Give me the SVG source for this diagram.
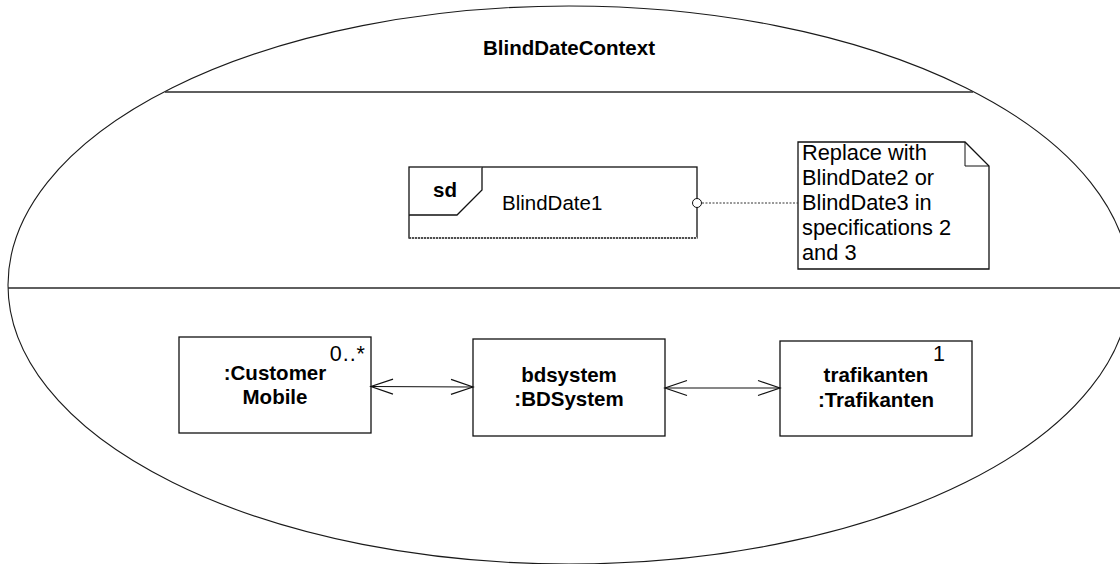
<svg xmlns="http://www.w3.org/2000/svg" width="1120" height="564" viewBox="0 0 1120 564">
  <style>
    .outline { fill: none; stroke: #1a1a1a; stroke-width: 1.1; }
    .divider { fill: none; stroke: #2a2a2a; stroke-width: 1.6; }
    .box { fill: #ffffff; stroke: #111111; stroke-width: 1.3; }
    .label { font-family: "Liberation Sans", Arial, sans-serif; fill: #000000; }
    .bold { font-weight: bold; font-size: 20.5px; }
    .plain { font-size: 20.5px; }
    .mult { font-size: 21.5px; }
    .note-text { font-size: 21.8px; }
    .assoc { fill: none; stroke: #111111; stroke-width: 1.2; }
    .dotted { fill: none; stroke: #333333; stroke-width: 1; stroke-dasharray: 2 1.5; }
  </style>
  <defs>
    <marker id="open-arrow" viewBox="-24 -10 26 20" refX="0" refY="0" markerWidth="26" markerHeight="20" markerUnits="userSpaceOnUse" orient="auto-start-reverse">
      <path d="M-22,-7.5 L0,0 L-22,7.5" fill="none" stroke="#111111" stroke-width="1.2"/>
    </marker>
  </defs>

  <rect width="1120" height="564" fill="#ffffff"/>

  <!-- collaboration context -->
  <g id="context">
    <ellipse class="outline" cx="569" cy="285" rx="561" ry="279"/>
    <line class="divider" x1="165" y1="92" x2="973" y2="92"/>
    <line class="divider" x1="8" y1="288" x2="1130" y2="288"/>
    <text class="label bold" x="569" y="55" text-anchor="middle">BlindDateContext</text>
  </g>

  <!-- interaction frame -->
  <g id="sd-blinddate1">
    <rect class="box" x="409" y="167" width="288" height="71" stroke-width="1"/>
    <line x1="409" y1="238" x2="697" y2="238" stroke="#ffffff" stroke-width="1.6"/>
    <line x1="409" y1="238" x2="697" y2="238" stroke="#222222" stroke-width="1.3" stroke-dasharray="2 1"/>
    <path class="box" d="M409,215 L457,215 L482,190 L482,167" fill="none" stroke-width="1"/>
    <text class="label bold" x="433" y="197">sd</text>
    <text class="label plain" x="502" y="210">BlindDate1</text>
  </g>

  <!-- comment note -->
  <g id="note">
    <path class="box" d="M798,142 L965,142 L989,166 L989,269 L798,269 Z" stroke-width="1"/>
    <path d="M965,142 L965,166 L989,166" fill="none" stroke="#111111" stroke-width="1"/>
    <text class="label note-text" x="802">
      <tspan x="802" y="160">Replace with</tspan>
      <tspan x="802" y="185">BlindDate2 or</tspan>
      <tspan x="802" y="210">BlindDate3 in</tspan>
      <tspan x="802" y="235">specifications 2</tspan>
      <tspan x="802" y="260">and 3</tspan>
    </text>
  </g>

  <!-- parts -->
  <g id="customer-mobile">
    <rect class="box" x="179" y="337" width="192" height="96"/>
    <text class="label bold" x="275" y="380" text-anchor="middle">:Customer</text>
    <text class="label bold" x="275" y="404" text-anchor="middle">Mobile</text>
    <text class="label mult" x="366" y="361" text-anchor="end" letter-spacing="1">0..*</text>
  </g>

  <g id="bdsystem">
    <rect class="box" x="473" y="339" width="192" height="97"/>
    <text class="label bold" x="569" y="382" text-anchor="middle">bdsystem</text>
    <text class="label bold" x="569" y="406" text-anchor="middle">:BDSystem</text>
  </g>

  <g id="trafikanten">
    <rect class="box" x="780" y="341" width="192" height="95"/>
    <text class="label bold" x="876" y="382" text-anchor="middle">trafikanten</text>
    <text class="label bold" x="876" y="407" text-anchor="middle">:Trafikanten</text>
    <text class="label mult" x="945" y="361" text-anchor="end">1</text>
  </g>

  <!-- connectors -->
  <g id="connectors">
    <line class="assoc" x1="371" y1="386.5" x2="473" y2="387" marker-start="url(#open-arrow)" marker-end="url(#open-arrow)"/>
    <line class="assoc" x1="665" y1="388" x2="780" y2="388" marker-start="url(#open-arrow)" marker-end="url(#open-arrow)"/>
    <line class="dotted" x1="702" y1="203" x2="798" y2="203"/>
    <circle cx="697" cy="203" r="4.5" fill="#ffffff" stroke="#111111" stroke-width="1"/>
  </g>
</svg>
